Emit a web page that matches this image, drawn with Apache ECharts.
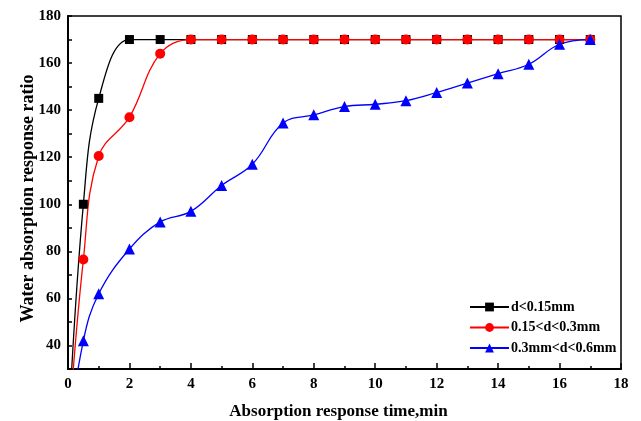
<!DOCTYPE html>
<html><head><meta charset="utf-8">
<script src="https://cdn.jsdelivr.net/npm/echarts@6/dist/echarts.min.js"></script>
<style>html,body{margin:0;padding:0;background:#fff}#c{width:641px;height:421px}</style>
</head><body><div id="c"></div>
<script>
var xBlack = [0, 0.5, 1, 2, 3, 4, 5, 6, 7, 8, 9, 10, 11, 12, 13, 14, 15, 16, 17];
var yBlack = [0, 100, 145, 170, 170, 170, 170, 170, 170, 170, 170, 170, 170, 170, 170, 170, 170, 170, 170];
var xRed = [0, 0.5, 1, 2, 3, 4, 5, 6, 7, 8, 9, 10, 11, 12, 13, 14, 15, 16, 17];
var yRed = [0, 76.5, 120.5, 137, 164, 170, 170, 170, 170, 170, 170, 170, 170, 170, 170, 170, 170, 170, 170];
var xBlue = [0, 0.5, 1, 2, 3, 4, 5, 6, 7, 8, 9, 10, 11, 12, 13, 14, 15, 16, 17];
var yBlue = [0, 42, 62, 81, 92.5, 97, 108, 117, 134.5, 138, 141.5, 142.5, 144, 147.5, 151.5, 155.5, 159.5, 168, 170];
var seriesNames = ['d<0.15mm', '0.15<d<0.3mm', '0.3mm<d<0.6mm'];
var xTicks = [0, 2, 4, 6, 8, 10, 12, 14, 16, 18];
var yTicks = [40, 60, 80, 100, 120, 140, 160, 180];

function pairs(xs, ys) { return xs.map(function (x, i) { return [x, ys[i]]; }); }

var font = '"Liberation Serif", "Times New Roman", serif';
var chart = echarts.init(document.getElementById('c'), null, {renderer: 'canvas'});
function mk(name, xs, ys, color, symbol, size) {
  return {
    name: name, type: 'line', smooth: 0.4, data: pairs(xs, ys),
    symbol: symbol, symbolSize: function (v) { return v[0] === 0 ? 0 : size; },
    lineStyle: {color: color, width: 1.3}, itemStyle: {color: color},
    clip: true, z: 2
  };
}
var labelStyle = {fontFamily: font, fontWeight: 'bold', fontSize: 15, color: '#000'};
chart.setOption({
  animation: false,
  grid: {left: 68, right: 20, top: 16, bottom: 52, outerBoundsMode: 'none', containLabel: false,
    show: true, borderColor: '#000', borderWidth: 1.5, backgroundColor: 'transparent'},
  legend: {
    orient: 'vertical', left: 464, top: 295, itemWidth: 39, itemHeight: 11, itemGap: 6.5,
    data: seriesNames,
    textStyle: {fontFamily: font, fontWeight: 'bold', fontSize: 14, color: '#000', padding: [0, 0, 0, -3]}
  },
  xAxis: {
    type: 'value', min: 0, max: 18, interval: 2,
    name: 'Absorption response time,min', nameLocation: 'middle', nameGap: 34, nameMoveOverlap: false,
    nameTextStyle: {fontFamily: font, fontWeight: 'bold', fontSize: 17, color: '#000', padding: [0, 12, 0, 0]},
    axisLine: {lineStyle: {color: '#000', width: 2}},
    axisTick: {inside: true, length: 6, lineStyle: {width: 1.5}},
    minorTick: {show: true, splitNumber: 2, length: 3, lineStyle: {color: '#000', width: 1.5}},
    axisLabel: Object.assign({margin: 8, formatter: function (v) { return xTicks.indexOf(v) >= 0 ? String(v) : ''; }}, labelStyle),
    splitLine: {show: false}
  },
  yAxis: {
    type: 'value', min: 30, max: 180, interval: 10,
    name: 'Water absorption response ratio', nameLocation: 'middle', nameGap: 31, nameMoveOverlap: false,
    nameTextStyle: {fontFamily: font, fontWeight: 'bold', fontSize: 18, color: '#000', padding: [0, 12, 0, 0]},
    axisLine: {lineStyle: {color: '#000', width: 2}},
    axisTick: {inside: true, length: 4, lineStyle: {width: 1.5}},
    axisLabel: Object.assign({margin: 7,
      formatter: function (v) { return yTicks.indexOf(v) >= 0 ? String(v) : ''; }}, labelStyle),
    splitLine: {show: false}
  },
  series: [
    mk(seriesNames[0], xBlack, yBlack, '#000000', 'rect', 9),
    mk(seriesNames[1], xRed, yRed, '#ff0000', 'circle', 10),
    mk(seriesNames[2], xBlue, yBlue, '#0000ff', 'triangle', 11)
  ]
});
</script></body></html>
